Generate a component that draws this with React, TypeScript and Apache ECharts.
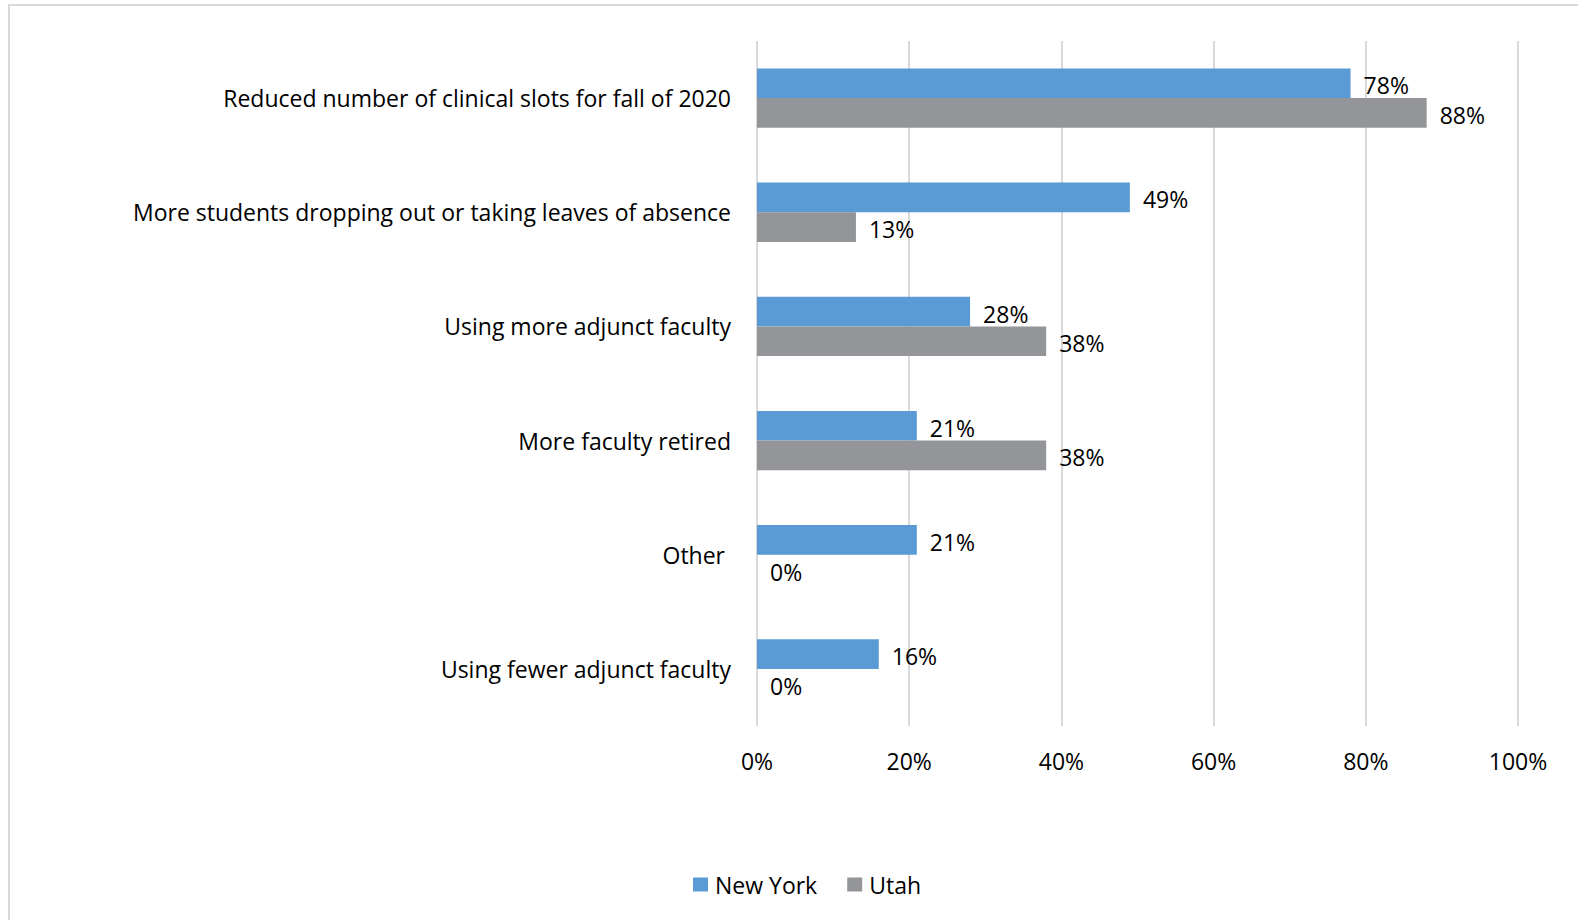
import React, { useEffect, useRef } from "react";
import * as echarts from "echarts";

const categories = [
  "Reduced number of clinical slots for fall of 2020",
  "More students dropping out or taking leaves of absence",
  "Using more adjunct faculty",
  "More faculty retired",
  "Other ",
  "Using fewer adjunct faculty",
];
const newYork = [78, 49, 28, 21, 21, 16];
const utah = [88, 13, 38, 38, 0, 0];
const seriesNames = ["New York", "Utah"];
const xTicks = { min: 0, max: 100, interval: 20 };

const FONT = "Open Sans";
const FS = 23;

export default function App() {
  const ref = useRef<HTMLDivElement>(null);
  useEffect(() => {
    const chart = echarts.init(ref.current!, null, { renderer: "svg" });
    const labelStyle = {
      show: true,
      position: "right" as const,
      distance: 13,
      offset: [0, 2],
      formatter: "{c}%",
      color: "#000",
      fontFamily: FONT,
      fontSize: FS,
    };
    chart.setOption({
      animation: false,
      backgroundColor: "#fff",
      graphic: [
        {
          type: "rect",
          shape: { x: 9, y: 5, width: 1600, height: 940 },
          style: { fill: "none", stroke: "#d9d9d9", lineWidth: 2 },
          silent: true,
        },
      ],
      grid: { left: 757, right: 60, top: 41, bottom: 194 },
      legend: {
        data: seriesNames,
        left: 688,
        top: 868,
        itemWidth: 15,
        itemHeight: 14,
        itemGap: 30,
        icon: "rect",
        textStyle: { fontFamily: FONT, fontSize: FS, color: "#000", padding: [0, 0, 0, 2] },
      },
      xAxis: {
        type: "value",
        min: xTicks.min,
        max: xTicks.max,
        interval: xTicks.interval,
        axisLine: { show: false },
        axisTick: { show: false },
        axisLabel: {
          formatter: "{value}%",
          color: "#000",
          fontFamily: FONT,
          fontSize: FS,
          margin: 23,
        },
        splitLine: { show: true, lineStyle: { color: "#d9d9d9", width: 2 } },
      },
      yAxis: {
        type: "category",
        data: categories,
        inverse: true,
        axisLine: { show: false },
        axisTick: { show: false },
        axisLabel: {
          color: "#000",
          fontFamily: FONT,
          fontSize: FS,
          margin: 26,
        },
        splitLine: { show: false },
      },
      series: [
        {
          name: seriesNames[0],
          type: "bar",
          data: newYork,
          barGap: "0%",
          barCategoryGap: "48%",
          itemStyle: { color: "#5B9BD5" },
          label: labelStyle,
        },
        {
          name: seriesNames[1],
          type: "bar",
          data: utah,
          barGap: "0%",
          barCategoryGap: "48%",
          itemStyle: { color: "#939598" },
          label: labelStyle,
        },
      ],
    });
    return () => chart.dispose();
  }, []);
  return (
    <div
      ref={ref}
      style={{ position: "absolute", left: 0, top: 0, width: 1578, height: 920 }}
    />
  );
}
